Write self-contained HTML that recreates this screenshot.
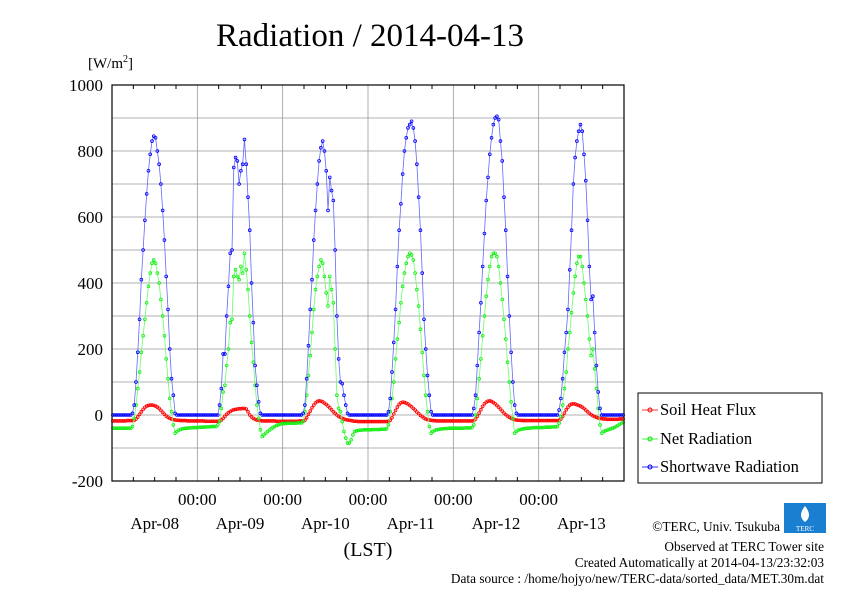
<!DOCTYPE html>
<html><head><meta charset="utf-8"><style>
body{margin:0;background:#fff}
svg text{font-family:"Liberation Serif",serif}
</style></head><body>
<svg id="c" width="842" height="595" xmlns="http://www.w3.org/2000/svg">
<text x="370" y="46" font-size="33" text-anchor="middle">Radiation / 2014-04-13</text>
<text x="88" y="68" font-size="15">[W/m<tspan dy="-6" font-size="10">2</tspan><tspan dy="6">]</tspan></text>
<g id="grid"></g>
<g id="series"></g>
<rect x="112" y="85" width="512" height="396" fill="none" stroke="#000" stroke-width="1.2"/>
<g id="axes"></g>
<text x="368" y="556" font-size="20" text-anchor="middle">(LST)</text>
<g>
<rect x="638" y="393" width="184" height="90" fill="#fff" stroke="#000"/>
<g><line x1="642" y1="410" x2="658" y2="410" stroke="#f33"/><circle cx="650" cy="410" r="2" fill="none" stroke="#f00"/><text x="660" y="415" font-size="16.5">Soil Heat Flux</text></g>
<g><line x1="642" y1="439" x2="658" y2="439" stroke="#3f3"/><circle cx="650" cy="439" r="2" fill="none" stroke="#0d0"/><text x="660" y="444" font-size="16.5">Net Radiation</text></g>
<g><line x1="642" y1="467" x2="658" y2="467" stroke="#33f"/><circle cx="650" cy="467" r="2" fill="none" stroke="#00f"/><text x="660" y="472" font-size="16.5">Shortwave Radiation</text></g>
</g>
<g>
<rect x="784" y="503" width="42" height="30" fill="#1a7fd0"/>
<path d="M805 506 q-8 10 0 16 q8 -6 0 -16z" fill="#fff"/>
<text x="805" y="531" font-size="7" fill="#fff" text-anchor="middle" font-family="Liberation Sans">TERC</text>
</g>
<g font-size="13.3" text-anchor="end">
<text x="780" y="531">©TERC, Univ. Tsukuba</text>
<text x="824" y="551">Observed at TERC Tower site</text>
<text x="824" y="567">Created Automatically at 2014-04-13/23:32:03</text>
<text x="824" y="583">Data source : /home/hojyo/new/TERC-data/sorted_data/MET.30m.dat</text>
</g>
</svg>
<script>
const dayLabels=["Apr-08","Apr-09","Apr-10","Apr-11","Apr-12","Apr-13"];
const yTicks=[-200,0,200,400,600,800,1000];
const yGrid=[-100,100,300,500,700,900];
const swD1=[0,0,0,0,0,0,0,0,0,0,0,5,30,100,190,290,410,500,590,670,740,790,830,845,840,800,760,700,620,530,420,320,200,110,60,5,0,0,0,0,0,0,0,0,0,0,0,0];
const swD2=[0,0,0,0,0,0,0,0,0,0,0,0,30,80,185,185,300,390,490,500,750,780,770,700,740,760,835,760,660,560,400,280,150,90,40,5,0,0,0,0,0,0,0,0,0,0,0,0];
const swD3=[0,0,0,0,0,0,0,0,0,0,0,5,30,110,210,320,410,530,620,700,770,810,830,800,740,620,720,680,650,500,300,170,100,95,60,30,5,0,0,0,0,0,0,0,0,0,0,0];
const swD4=[0,0,0,0,0,0,0,0,0,0,0,10,50,130,220,320,450,560,640,730,800,840,870,880,890,870,830,760,660,560,430,290,200,120,60,10,0,0,0,0,0,0,0,0,0,0,0,0];
const swD5=[0,0,0,0,0,0,0,0,0,0,0,20,60,150,250,340,450,550,650,720,790,840,880,900,905,895,830,770,660,560,420,300,190,100,30,5,0,0,0,0,0,0,0,0,0,0,0,0];
const swD6=[0,0,0,0,0,0,0,0,0,0,0,15,50,110,190,250,320,440,560,700,780,830,860,880,860,790,710,590,450,350,360,250,150,70,20,0,0,0,0,0,0,0,0,0,0,0,0,0];
const netD1=[-40,-40,-40,-40,-40,-40,-40,-40,-40,-40,-40,-35,-10,30,80,130,190,240,290,340,390,430,460,470,460,430,400,350,300,240,170,110,50,10,-30,-55,-50,-46,-44,-42,-41,-40,-40,-39,-39,-38,-38,-38];
const netD2=[-38,-37,-37,-37,-36,-36,-36,-35,-35,-35,-35,-30,-20,20,70,90,150,200,280,290,420,440,420,410,450,430,490,440,380,300,220,160,90,30,-10,-45,-65,-60,-55,-50,-46,-42,-38,-35,-32,-30,-28,-26];
const netD3=[-26,-26,-25,-25,-25,-25,-25,-25,-24,-24,-24,-20,10,60,120,180,250,320,380,420,450,470,460,420,370,330,420,380,340,200,60,20,10,-20,-50,-70,-85,-85,-75,-60,-50,-48,-47,-46,-46,-45,-45,-45];
const netD4=[-45,-45,-44,-44,-44,-44,-44,-43,-43,-43,-42,-30,10,50,100,170,230,280,340,390,430,460,480,490,485,470,430,380,330,260,190,120,60,10,-35,-55,-50,-47,-45,-44,-43,-42,-42,-41,-41,-40,-40,-40];
const netD5=[-40,-40,-40,-40,-40,-40,-39,-39,-39,-39,-38,-30,0,50,110,170,240,300,360,410,450,480,490,490,480,450,400,350,290,230,160,100,40,-10,-55,-50,-46,-44,-43,-42,-41,-40,-40,-39,-39,-38,-38,-38];
const netD6=[-38,-38,-38,-37,-37,-37,-37,-36,-36,-36,-35,-25,-5,30,80,130,200,250,310,370,420,460,480,480,450,400,350,300,230,180,200,140,80,20,-30,-55,-50,-48,-46,-44,-42,-40,-38,-35,-32,-28,-25,-22];
const soilD1=[-18,-18,-18,-18,-18,-18,-18,-18,-17,-17,-17,-17,-16,-12,-6,2,10,17,23,27,29,30,30,29,27,24,20,14,8,2,-3,-7,-10,-12,-14,-15,-16,-16,-17,-17,-17,-17,-18,-18,-18,-18,-18,-18];
const soilD2=[-18,-18,-18,-18,-19,-19,-19,-19,-19,-19,-19,-19,-18,-15,-10,-4,2,7,11,14,16,17,18,19,19,20,20,18,10,0,-6,-10,-13,-15,-16,-17,-18,-18,-18,-18,-18,-18,-18,-18,-19,-19,-19,-19];
const soilD3=[-19,-19,-19,-19,-19,-19,-19,-19,-19,-18,-18,-18,-16,-8,2,12,22,30,37,41,43,42,40,36,32,27,22,16,10,5,0,-4,-7,-10,-12,-14,-15,-16,-17,-18,-19,-19,-20,-20,-20,-20,-20,-20];
const soilD4=[-20,-20,-20,-20,-20,-20,-20,-20,-20,-20,-20,-19,-16,-8,3,14,24,32,37,39,38,36,33,29,25,20,15,9,4,-1,-5,-9,-12,-14,-15,-16,-17,-17,-18,-18,-18,-18,-18,-18,-18,-18,-18,-18];
const soilD5=[-18,-18,-18,-18,-18,-18,-18,-18,-18,-18,-18,-17,-12,-4,6,16,26,34,39,42,43,41,38,34,29,24,18,12,6,1,-3,-7,-10,-12,-14,-15,-16,-16,-17,-17,-17,-17,-17,-17,-17,-17,-17,-17];
const soilD6=[-17,-17,-17,-17,-17,-17,-17,-17,-17,-17,-17,-16,-12,-4,6,16,24,30,33,34,33,31,29,27,24,20,15,10,5,1,-2,-5,-7,-9,-10,-11,-12,-12,-13,-13,-13,-13,-13,-13,-13,-12,-12,-12];
const shortwave=[].concat(swD1,swD2,swD3,swD4,swD5,swD6);
const netRad=[].concat(netD1,netD2,netD3,netD4,netD5,netD6);
const soilHeat=[].concat(soilD1,soilD2,soilD3,soilD4,soilD5,soilD6);

const NS="http://www.w3.org/2000/svg";
const X0=112,X1=624,Y0=481,Y1=85,YMIN=-200,YMAX=1000,STEPS=288;
function xs(i){return X0+(i+0.5)*(X1-X0)/STEPS;}
function xd(d){return X0+d*(X1-X0)/6;}
function ys(v){return Y0-(v-YMIN)*(Y0-Y1)/(YMAX-YMIN);}
function mk(tag,attrs,parent){const e=document.createElementNS(NS,tag);for(const k in attrs)e.setAttribute(k,attrs[k]);parent.appendChild(e);return e;}
const grid=document.getElementById('grid'),axes=document.getElementById('axes'),ser=document.getElementById('series');
yTicks.concat(yGrid).forEach(v=>{
  const l=mk('line',{x1:X0,x2:X1,y1:ys(v),y2:ys(v),stroke:'#999','stroke-width':0.8},grid);
  
  
});
yTicks.forEach(v=>{
  const t=mk('text',{x:103,y:ys(v)+6,'font-size':17,'text-anchor':'end'},axes);
  t.textContent=v;
  
  
});
for(let d=1;d<6;d++){
  const l=mk('line',{x1:xd(d),x2:xd(d),y1:Y1,y2:Y0,stroke:'#999','stroke-width':0.8},grid);
  
  
  const t=mk('text',{x:xd(d),y:505,'font-size':17,'text-anchor':'middle'},axes);
  t.textContent='00:00';
  
  
}
for(let q=1;q<24;q++){if(q%4===0)continue;
  const x=X0+q*(X1-X0)/24;
  mk('line',{x1:x,x2:x,y1:Y1,y2:Y1+4,stroke:'#000'},axes);
  mk('line',{x1:x,x2:x,y1:Y0,y2:Y0-4,stroke:'#000'},axes);
}
dayLabels.forEach((s,d)=>{
  const t=mk('text',{x:xd(d)+42.7,y:529,'font-size':17,'text-anchor':'middle'},axes);
  t.textContent=s;
  
  
});
function draw(arr,line,dot,name){
  const g=mk('g',{},ser);
  
  
  mk('polyline',{points:arr.map((v,i)=>xs(i)+','+ys(v)).join(' '),fill:'none',stroke:line,'stroke-width':0.8},g);
  arr.forEach((v,i)=>mk('circle',{cx:xs(i),cy:ys(v),r:1.4,fill:'none',stroke:dot,'stroke-width':0.8},g));
}
draw(soilHeat,'#f66','#f00','soil-heat-flux-series');
draw(netRad,'#6f6','#1e1','net-radiation-series');
draw(shortwave,'#66f','#00f','shortwave-radiation-series');
</script>
</body></html>
